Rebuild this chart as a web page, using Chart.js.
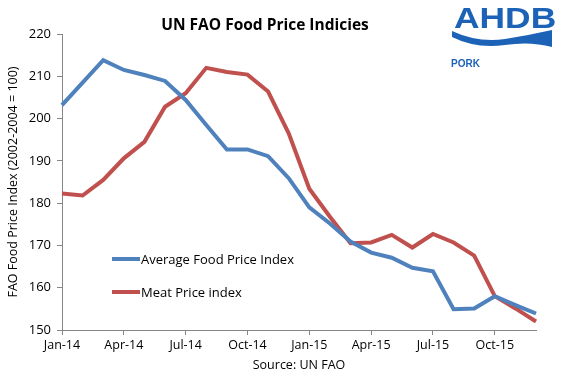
<!DOCTYPE html>
<html>
<head>
<meta charset="utf-8">
<script src="https://cdn.jsdelivr.net/npm/chart.js@4"></script>
<style>
  body { margin: 0; background: #fff; }
  #wrap { width: 565px; height: 377px; position: relative; }
</style>
</head>
<body>
<div id="wrap"><canvas id="faoChart"></canvas></div>
<script>
var months = ['Jan-14','Feb-14','Mar-14','Apr-14','May-14','Jun-14','Jul-14','Aug-14','Sep-14','Oct-14','Nov-14','Dec-14',
              'Jan-15','Feb-15','Mar-15','Apr-15','May-15','Jun-15','Jul-15','Aug-15','Sep-15','Oct-15','Nov-15','Dec-15'];
var avgFood = [203.2, 208.5, 213.8, 211.5, 210.3, 208.9, 204.4, 198.5, 192.7, 192.7, 191.1, 185.9,
               179.0, 175.2, 170.9, 168.3, 167.1, 164.7, 163.9, 154.9, 155.1, 158.0, 155.9, 153.9];
var meat    = [182.3, 181.8, 185.5, 190.6, 194.5, 202.8, 206.0, 212.0, 211.0, 210.4, 206.4, 196.5,
               183.4, 176.8, 170.5, 170.7, 172.5, 169.5, 172.7, 170.7, 167.6, 158.0, 155.1, 152.0];
var seriesNames = ['Average Food Price Index', 'Meat Price index'];
var titleText = 'UN FAO Food Price Indicies';
var yTitle = 'FAO Food Price Index (2002-2004 = 100)';
var xTitle = 'Source: UN FAO';

var FONT = "'Open Sans', sans-serif";
var axisGrey = '#868686';

// title, legend inside plot, logo
var extras = {
    id: 'extras',
    afterDraw: function (chart) {
        var c = chart.ctx;
        c.save();
        c.fillStyle = '#000';
        c.font = 'bold 15.5px ' + FONT;
        c.textAlign = 'center';
        c.textBaseline = 'middle';
        c.fillText(titleText, 265, 26);

        // legend
        c.font = '13px ' + FONT;
        c.textAlign = 'left';
        var rows = [259, 292];
        chart.data.datasets.forEach(function (ds, i) {
            c.strokeStyle = ds.borderColor;
            c.lineWidth = 4;
            c.beginPath();
            c.moveTo(112, rows[i]);
            c.lineTo(140, rows[i]);
            c.stroke();
            c.fillStyle = '#000';
            c.fillText(ds.label, 141, rows[i] + 1);
        });

        // AHDB logo
        var blue = '#1C63B7';
        c.fillStyle = blue;
        c.save();
        c.translate(454, 28);
        c.scale(1.22, 1);
        c.font = 'bold 29px "Liberation Sans", Arial, sans-serif';
        c.textAlign = 'left';
        c.textBaseline = 'alphabetic';
        c.fillText('AHDB', 0, 0);
        c.restore();
        c.beginPath();
        c.moveTo(452, 31);
        c.quadraticCurveTo(478, 43, 505, 39);
        c.quadraticCurveTo(530, 35, 552, 30);
        c.lineTo(552, 47);
        c.quadraticCurveTo(530, 41, 505, 45);
        c.quadraticCurveTo(476, 49, 452, 37);
        c.closePath();
        c.fill();
        c.font = 'bold 10px "Liberation Sans", Arial, sans-serif';
        c.fillText('PORK', 451, 64);
        c.restore();
    }
};

new Chart(document.getElementById('faoChart'), {
    type: 'line',
    data: {
        labels: months,
        datasets: [
            {
                label: seriesNames[0],
                data: avgFood,
                borderColor: '#4F81BD',
                borderWidth: 4,
                pointRadius: 0,
                tension: 0,
                fill: false
            },
            {
                label: seriesNames[1],
                data: meat,
                borderColor: '#C0504D',
                borderWidth: 4,
                pointRadius: 0,
                tension: 0,
                fill: false
            }
        ]
    },
    options: {
        responsive: true,
        maintainAspectRatio: false,
        animation: false,
        layout: { padding: { top: 34, right: 29, bottom: 0, left: 0 } },
        plugins: {
            legend: { display: false },
            title: { display: false },
            tooltip: { enabled: false }
        },
        scales: {
            x: {
                offset: false,
                afterFit: function (s) { s.height = 47; },
                border: { color: axisGrey, width: 1 },
                grid: { drawOnChartArea: false, color: axisGrey, tickLength: 5 },
                ticks: {
                    autoSkip: false,
                    maxRotation: 0,
                    padding: 3,
                    color: '#000',
                    font: { family: FONT, size: 12.5 },
                    callback: function (v, i) { return i % 3 === 0 ? months[i] : null; }
                },
                title: {
                    display: true,
                    text: xTitle,
                    color: '#000',
                    font: { family: FONT, size: 12.5 },
                    padding: { top: 0, bottom: 4 }
                }
            },
            y: {
                min: 150,
                max: 220,
                afterFit: function (s) { s.width = 62; },
                border: { color: axisGrey, width: 1 },
                grid: { drawOnChartArea: false, color: axisGrey, tickLength: 5 },
                ticks: {
                    stepSize: 10,
                    padding: 6,
                    color: '#000',
                    font: { family: FONT, size: 13 }
                },
                title: {
                    display: true,
                    text: yTitle,
                    color: '#000',
                    font: { family: FONT, size: 12.5 },
                    padding: { top: 6, bottom: 0 }
                }
            }
        }
    },
    plugins: [extras]
});
</script>
</body>
</html>
